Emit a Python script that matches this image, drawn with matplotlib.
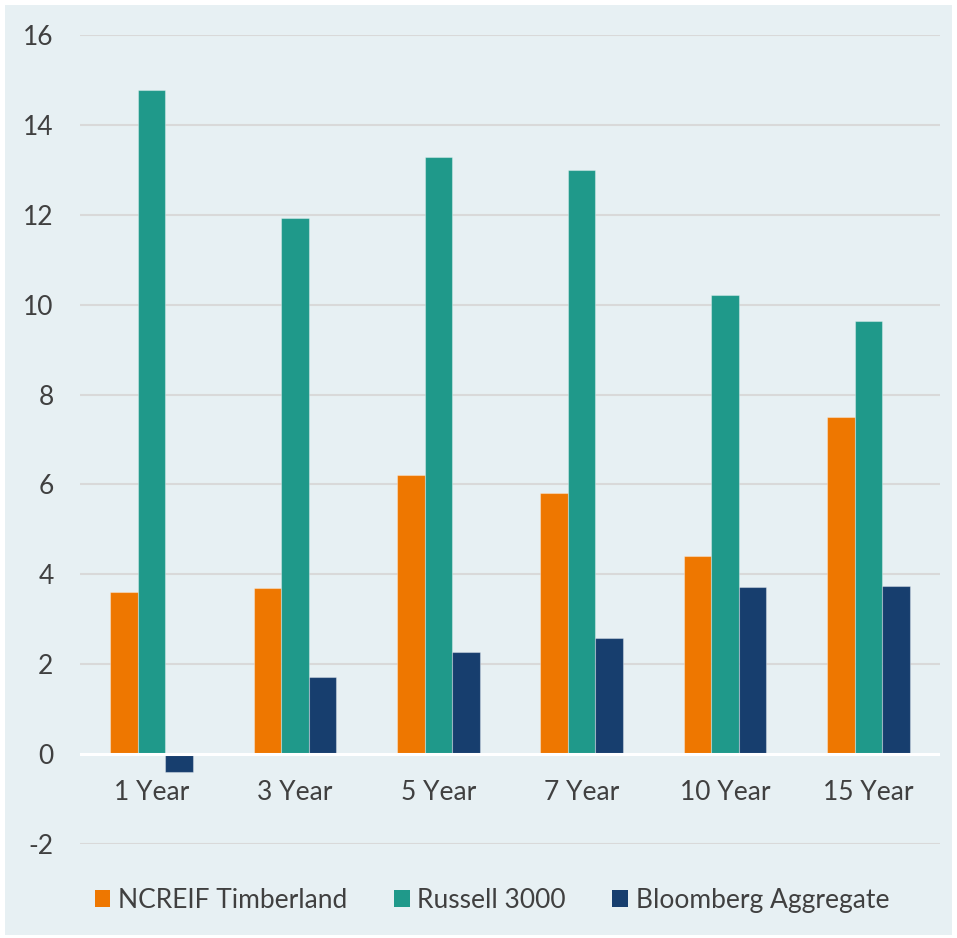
import matplotlib
matplotlib.use("Agg")
import matplotlib.pyplot as plt
import numpy as np
import matplotlib.transforms as mtransforms
from matplotlib.patches import Rectangle

categories = ["1 Year", "3 Year", "5 Year", "7 Year", "10 Year", "15 Year"]
ncreif = [3.6, 3.7, 6.2, 5.8, 4.4, 7.5]
russell = [14.77, 11.92, 13.28, 12.99, 10.22, 9.64]
bloomberg = [-0.4, 1.71, 2.27, 2.58, 3.72, 3.73]
series_names = ["NCREIF Timberland", "Russell 3000", "Bloomberg Aggregate"]
yticks = [-2, 0, 2, 4, 6, 8, 10, 12, 14, 16]

colors = ["#EE7700", "#1F998A", "#173E6E"]
bg = "#E7F0F3"
txt = "#404040"

plt.rcParams['font.family'] = ['Lato', 'DejaVu Sans']

fig = plt.figure(figsize=(9.57, 9.38), dpi=100)
fig.patch.set_facecolor("white")
fig.patches.append(Rectangle((5/957, 3/938), 947/957, 930/938, transform=fig.transFigure,
                             facecolor=bg, edgecolor="none", zorder=-10))

ax = fig.add_axes([80/957, 1 - 844/938, 860/957, (844 - 35)/938])
ax.set_facecolor("none")

x = np.arange(len(categories))
w = 0.193
for i, (vals, name) in enumerate(zip([ncreif, russell, bloomberg], series_names)):
    ax.bar(x + (i - 1) * w, vals, width=w, color=colors[i], label=name,
           edgecolor=(1, 1, 1, 0.35), linewidth=0.8, zorder=3)

ax.set_xlim(-0.5, len(categories) - 0.5)
ax.set_ylim(-2, 16)
ax.set_yticks(yticks)
ax.set_yticklabels([str(t) for t in yticks])
ax.set_xticks(x)
ax.set_xticklabels(categories)

for t in yticks:
    if t == 0:
        ax.axhline(0, color="white", linewidth=2.2, zorder=4)
    else:
        ax.axhline(t, color="#D9D9D9", linewidth=1.5, zorder=1)

for s in ax.spines.values():
    s.set_visible(False)
ax.tick_params(axis="both", length=0, labelsize=19, labelcolor=txt)
ax.tick_params(axis="y", pad=19)
ax.tick_params(axis="x", pad=0)
for lab in ax.get_xticklabels():
    lab.set_transform(lab.get_transform() + mtransforms.ScaledTranslation(0, (844 - 780) / 100, fig.dpi_scale_trans))

handles, labels = ax.get_legend_handles_labels()
leg = fig.legend(handles, labels, loc="center", bbox_to_anchor=(492/957, 1 - 900/938), ncol=3,
                 frameon=False, fontsize=19, handlelength=0.6, handleheight=0.6,
                 handletextpad=0.3, columnspacing=1.75, labelcolor=txt)
for h in leg.legend_handles:
    h.set_edgecolor("none")

fig.savefig("out.png", dpi=100, facecolor=fig.get_facecolor())
